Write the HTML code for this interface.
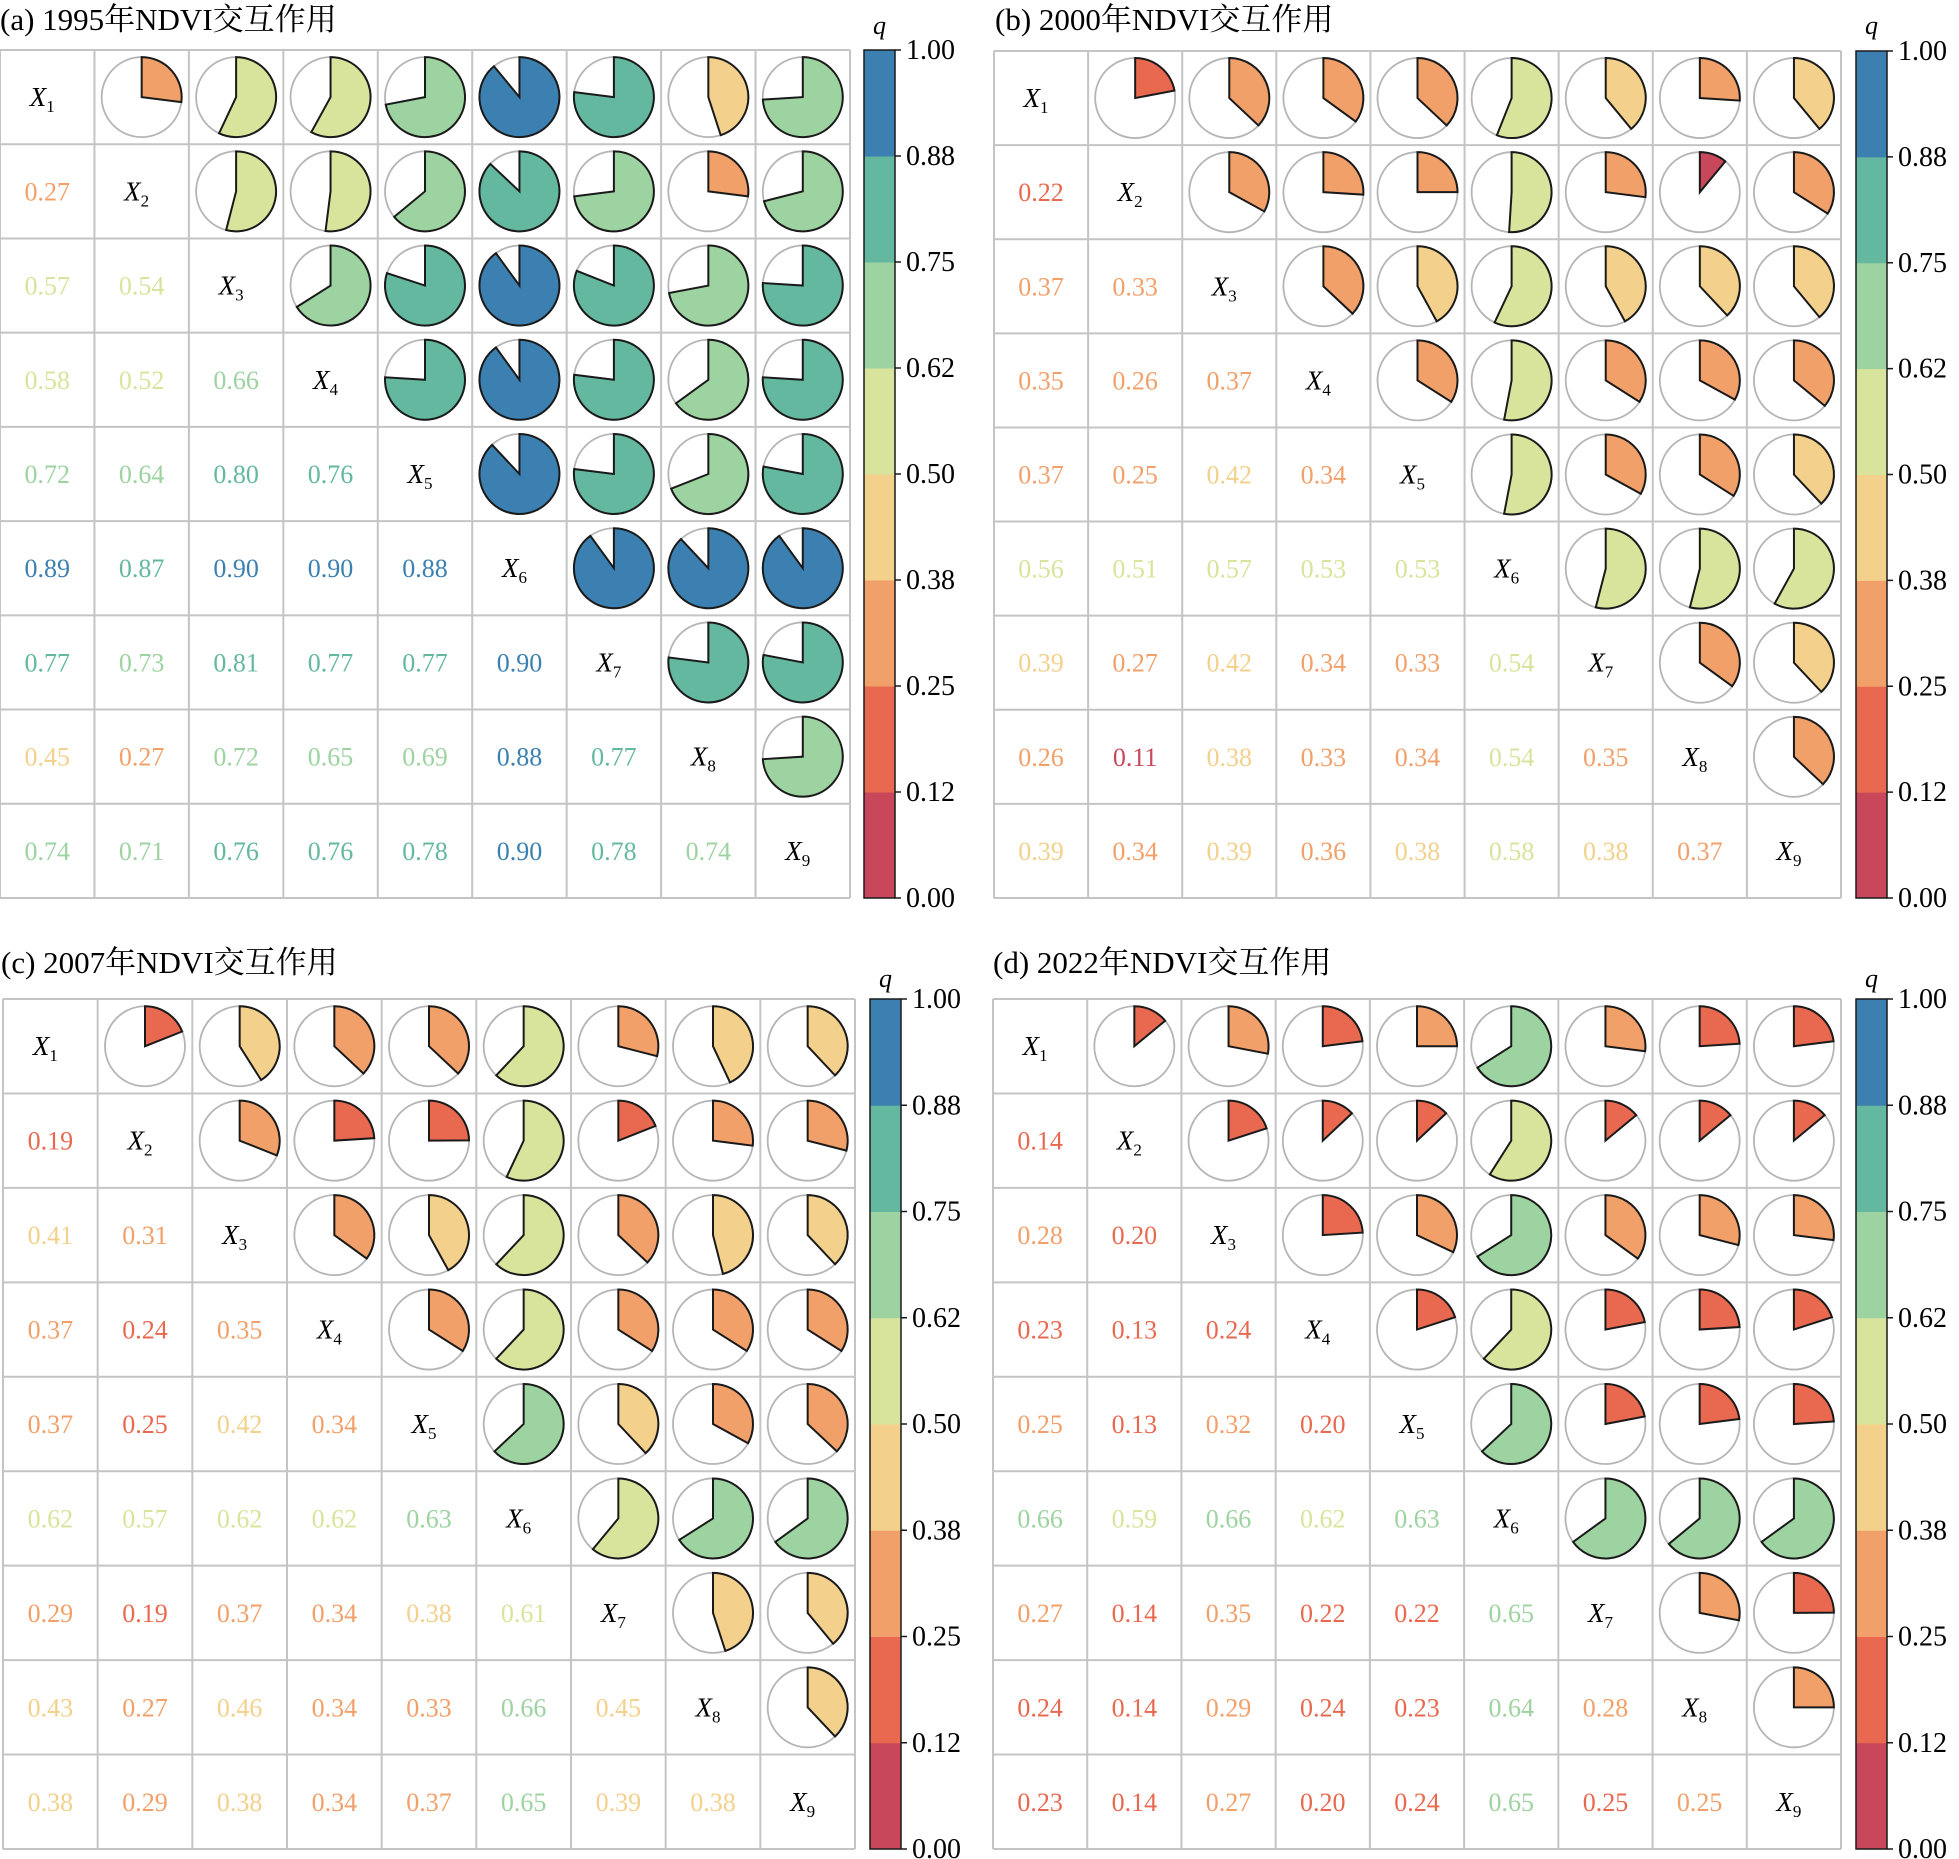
<!DOCTYPE html>
<html><head><meta charset="utf-8"><style>
html,body{margin:0;padding:0;background:#fff;}
svg{display:block;font-family:"Liberation Serif","Noto Serif CJK SC",serif;}
</style></head><body>
<svg id="s" width="1959" height="1859" viewBox="0 0 1959 1859" xmlns="http://www.w3.org/2000/svg">
<text x="0" y="30" font-size="31">(a) 1995年NDVI交互作用</text>
<text x="995" y="30" font-size="31">(b) 2000年NDVI交互作用</text>
<text x="1" y="973" font-size="31">(c) 2007年NDVI交互作用</text>
<text x="993" y="973" font-size="31">(d) 2022年NDVI交互作用</text>
</svg>
<script>
var P=[
{x0:0,x1:850,y0:50,y1:898,cb:864,qy:34,d:[
["0.27"],["0.57","0.54"],["0.58","0.52","0.66"],["0.72","0.64","0.80","0.76"],
["0.89","0.87","0.90","0.90","0.88"],["0.77","0.73","0.81","0.77","0.77","0.90"],
["0.45","0.27","0.72","0.65","0.69","0.88","0.77"],["0.74","0.71","0.76","0.76","0.78","0.90","0.78","0.74"]]},
{x0:994,x1:1841,y0:51,y1:898,cb:1856,qy:34,d:[
["0.22"],["0.37","0.33"],["0.35","0.26","0.37"],["0.37","0.25","0.42","0.34"],
["0.56","0.51","0.57","0.53","0.53"],["0.39","0.27","0.42","0.34","0.33","0.54"],
["0.26","0.11","0.38","0.33","0.34","0.54","0.35"],["0.39","0.34","0.39","0.36","0.38","0.58","0.38","0.37"]]},
{x0:3,x1:855,y0:999,y1:1849,cb:870,qy:987,d:[
["0.19"],["0.41","0.31"],["0.37","0.24","0.35"],["0.37","0.25:0.249","0.42","0.34"],
["0.62","0.57","0.62","0.62","0.63"],["0.29","0.19","0.37","0.34","0.38","0.61"],
["0.43","0.27","0.46","0.34","0.33","0.66","0.45"],["0.38","0.29","0.38","0.34","0.37","0.65","0.39","0.38"]]},
{x0:993,x1:1841,y0:999,y1:1849,cb:1856,qy:987,d:[
["0.14"],["0.28","0.20"],["0.23","0.13","0.24"],["0.25","0.13","0.32","0.20"],
["0.66","0.59","0.66","0.62","0.63"],["0.27","0.14","0.35","0.22","0.22","0.65"],
["0.24","0.14","0.29","0.24","0.23","0.64","0.28"],["0.23","0.14","0.27","0.20","0.24","0.65","0.25:0.249","0.25"]]}
];
var C=["#c8475a","#e8694f","#f2a06a","#f3d08b","#d8e49b","#9dd3a0","#63b89f","#3b80b1"];
function col(v){var i=Math.floor(v*8+1e-9);if(i>7)i=7;if(i<0)i=0;return C[i];}
function sp(s){var a=s.split(':');return [a[0],parseFloat(a[1]||a[0])];}
var h='';
P.forEach(function(p){
 var cw=(p.x1-p.x0)/9,ch=(p.y1-p.y0)/9,r=40;
 for(var i=0;i<9;i++)for(var j=0;j<9;j++){
  var cx=p.x0+cw*(j+0.5),cy=p.y0+ch*(i+0.5);
  if(i==j){h+='<text x="'+(cx-5)+'" y="'+(cy+9)+'" font-size="27" text-anchor="middle" font-style="italic">X<tspan font-size="17" font-style="normal" dy="6">'+(i+1)+'</tspan></text>';}
  else if(i>j){var q=sp(p.d[i-1][j]);
   h+='<text x="'+cx+'" y="'+(cy+9)+'" font-size="26" text-anchor="middle" fill="'+col(q[1])+'">'+q[0]+'</text>';}
  else{var q=sp(p.d[j-1][i]),v=q[1];
   h+='<circle cx="'+cx+'" cy="'+cy+'" r="'+r+'" fill="#fff" stroke="#b5b5b5" stroke-width="1.8"/>';
   var a=v*2*Math.PI,ex=cx+r*Math.sin(a),ey=cy-r*Math.cos(a),lg=v>0.5?1:0;
   h+='<path d="M'+cx+','+cy+' L'+cx+','+(cy-r)+' A'+r+','+r+' 0 '+lg+' 1 '+ex.toFixed(2)+','+ey.toFixed(2)+' Z" fill="'+col(v)+'" stroke="#1a1a1a" stroke-width="2" stroke-linejoin="miter"/>';}
 }
 for(var k=0;k<=9;k++){
  h+='<line x1="'+(p.x0+cw*k)+'" y1="'+p.y0+'" x2="'+(p.x0+cw*k)+'" y2="'+p.y1+'" stroke="#c4c4c4" stroke-width="2"/>';
  h+='<line x1="'+p.x0+'" y1="'+(p.y0+ch*k)+'" x2="'+p.x1+'" y2="'+(p.y0+ch*k)+'" stroke="#c4c4c4" stroke-width="2"/>';
 }
 var bw=31,bh=p.y1-p.y0;
 for(var b=0;b<8;b++){h+='<rect x="'+p.cb+'" y="'+(p.y1-bh*(b+1)/8)+'" width="'+bw+'" height="'+(bh/8+0.5)+'" fill="'+C[b]+'"/>';}
 h+='<rect x="'+p.cb+'" y="'+p.y0+'" width="'+bw+'" height="'+bh+'" fill="none" stroke="#1a1a1a" stroke-width="1.5"/>';
 var L=["0.00","0.12","0.25","0.38","0.50","0.62","0.75","0.88","1.00"];
 for(var t=0;t<9;t++){var ty=p.y1-bh*t/8;
  h+='<line x1="'+(p.cb+bw)+'" y1="'+ty+'" x2="'+(p.cb+bw+6)+'" y2="'+ty+'" stroke="#1a1a1a" stroke-width="1.5"/>';
  h+='<text x="'+(p.cb+bw+11)+'" y="'+(ty+9)+'" font-size="28">'+L[t]+'</text>';}
 h+='<text x="'+(p.cb+bw/2)+'" y="'+p.qy+'" font-size="26" font-style="italic" text-anchor="middle">q</text>';
});
document.getElementById('s').insertAdjacentHTML('beforeend',h);
</script>
</body></html>
